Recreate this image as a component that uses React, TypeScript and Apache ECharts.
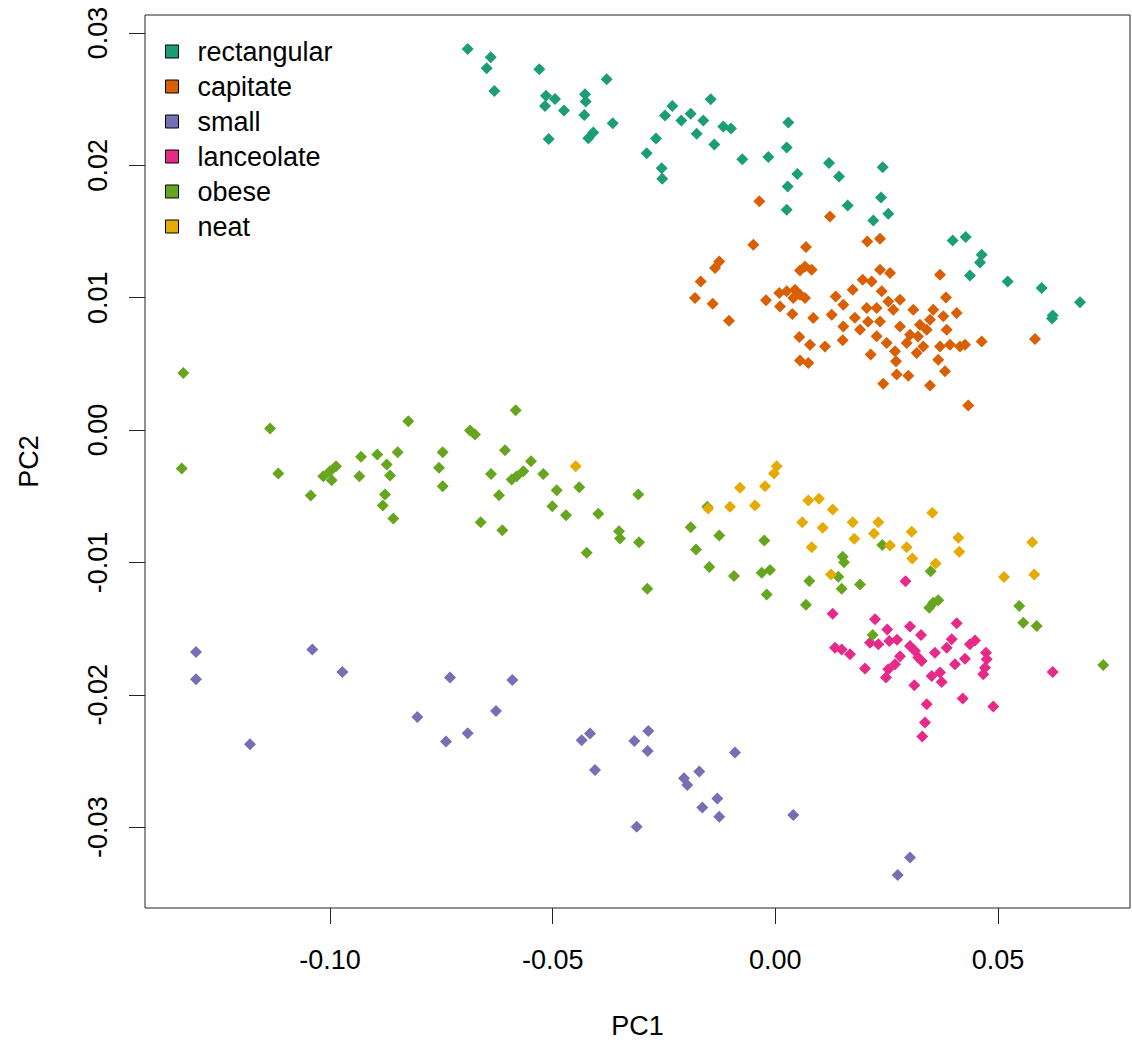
import React, { useEffect, useRef } from "react";
import * as echarts from "echarts";

const categories = ["rectangular", "capitate", "small", "lanceolate", "obese", "neat"];
const colors = ["#1B9E77", "#D95F02", "#7570B3", "#E7298A", "#66A61E", "#E6AB02"];
const xTicks = [-0.1, -0.05, 0, 0.05];
const yTicks = [-0.03, -0.02, -0.01, 0, 0.01, 0.02, 0.03];

const rectangular: [number, number][] = [
  [-0.06908, 0.02879], [-0.06391, 0.02817], [-0.06481, 0.02734], [-0.0631, 0.02562], [-0.053, 0.02726],
  [-0.05149, 0.02525], [-0.04947, 0.02502], [-0.05172, 0.02449], [-0.04745, 0.02414], [-0.04274, 0.02537],
  [-0.04258, 0.02482], [-0.04289, 0.02381], [-0.03786, 0.02651], [-0.03651, 0.02318], [-0.05089, 0.022],
  [-0.04199, 0.02205], [-0.04087, 0.02248], [-0.02679, 0.02202], [-0.02888, 0.02092], [-0.02551, 0.01979],
  [-0.02538, 0.01898], [-0.02477, 0.02376], [-0.02313, 0.02449], [-0.02111, 0.02338], [-0.019, 0.02389],
  [-0.01617, 0.02338], [-0.01765, 0.02238], [-0.01451, 0.025], [-0.0137, 0.02157], [-0.01168, 0.02293],
  [-0.00995, 0.02278], [-0.00741, 0.02047], [-0.00157, 0.02064], [0.00292, 0.02323], [0.00256, 0.02134],
  [0.00494, 0.01934], [0.00278, 0.0184], [0.00256, 0.01664], [0.01206, 0.02017], [0.01431, 0.01915],
  [0.02412, 0.01986], [0.01626, 0.01697], [0.02374, 0.01757], [0.02538, 0.01634], [0.02201, 0.01583],
  [0.03984, 0.01432], [0.04276, 0.01458], [0.04635, 0.01325], [0.04597, 0.01266], [0.04372, 0.01168],
  [0.05219, 0.01123], [0.05982, 0.01073], [0.06843, 0.00965], [0.0623, 0.00866], [0.06215, 0.00842],
];

const capitate: [number, number][] = [
  [-0.00359, 0.01728], [0.01228, 0.01614], [-0.00494, 0.014], [0.00689, 0.01383], [0.02066, 0.01425],
  [0.02351, 0.01445], [-0.01258, 0.01274], [-0.01354, 0.01224], [-0.01675, 0.01123], [-0.01803, 0.00998],
  [-0.01406, 0.00955], [-0.0104, 0.00826], [0.00667, 0.01236], [0.00555, 0.01206], [0.00817, 0.01211],
  [-0.00209, 0.0098], [0.0009, 0.01035], [0.00106, 0.00934], [0.00256, 0.01048], [0.00442, 0.0106],
  [0.00555, 0.01023], [0.00667, 0.00998], [0.00404, 0.00998], [0.00382, 0.00877], [0.00853, 0.00847],
  [0.00539, 0.00703], [0.00779, 0.00645], [0.01116, 0.00632], [0.00555, 0.00525], [0.00741, 0.00507],
  [0.01356, 0.0101], [0.01267, 0.00872], [0.01527, 0.00947], [0.01738, 0.0106], [0.01527, 0.00783],
  [0.01902, 0.00758], [0.02053, 0.00922], [0.02277, 0.00922], [0.01963, 0.01136], [0.02165, 0.01123],
  [0.02351, 0.01211], [0.02576, 0.01186], [0.02389, 0.01048], [0.02538, 0.00972], [0.0265, 0.00909],
  [0.02351, 0.00821], [0.02277, 0.00708], [0.02502, 0.00658], [0.01514, 0.00678], [0.02142, 0.0057],
  [0.02688, 0.00595], [0.02711, 0.00519], [0.02726, 0.00419], [0.02987, 0.00411], [0.02425, 0.00349],
  [0.03099, 0.00909], [0.028, 0.00783], [0.03025, 0.00721], [0.02951, 0.00658], [0.03249, 0.00796],
  [0.034, 0.00758], [0.03175, 0.00583], [0.03324, 0.00632], [0.03548, 0.00909], [0.03773, 0.00859],
  [0.03849, 0.00758], [0.03699, 0.00632], [0.03923, 0.00645], [0.0366, 0.00532], [0.03811, 0.00444],
  [0.04074, 0.00885], [0.04148, 0.00632], [0.0426, 0.00645], [0.03474, 0.00336], [0.04635, 0.0067],
  [0.03833, 0.01002], [0.03699, 0.01174], [0.04334, 0.00185], [0.05832, 0.00688], [0.01786, 0.00849],
  [0.02082, 0.00819], [0.028, 0.00985], [0.03205, 0.00706], [0.03474, 0.00834],
];

const small: [number, number][] = [
  [-0.13009, -0.01677], [-0.13009, -0.01883], [-0.10397, -0.01657], [-0.09724, -0.01828], [-0.11797, -0.02374],
  [-0.07305, -0.0187], [-0.05906, -0.01888], [-0.0804, -0.02168], [-0.06272, -0.02122], [-0.07395, -0.02353],
  [-0.06908, -0.02291], [-0.04161, -0.02293], [-0.04348, -0.02343], [-0.04049, -0.02568], [-0.02852, -0.02273],
  [-0.03166, -0.02349], [-0.02866, -0.02424], [-0.03113, -0.02998], [-0.00905, -0.02436], [-0.01707, -0.0258],
  [-0.0205, -0.0263], [-0.01976, -0.02681], [-0.01302, -0.02783], [-0.01639, -0.02851], [-0.01258, -0.02922],
  [0.00404, -0.02909], [0.03025, -0.03229], [0.02749, -0.03362],
];

const lanceolate: [number, number][] = [
  [0.02924, -0.01143], [0.01289, -0.01387], [0.02239, -0.0143], [0.02515, -0.01506], [0.0256, -0.01594],
  [0.03025, -0.01485], [0.03272, -0.01549], [0.04074, -0.0146], [0.01341, -0.01644], [0.01491, -0.01657],
  [0.01678, -0.01694], [0.02127, -0.01606], [0.02313, -0.01619], [0.03025, -0.01632], [0.03137, -0.01669],
  [0.03211, -0.01719], [0.03288, -0.01745], [0.03586, -0.01682], [0.03849, -0.01644], [0.03961, -0.01581],
  [0.04372, -0.01619], [0.04485, -0.01589], [0.0426, -0.01727], [0.04732, -0.01682], [0.04747, -0.01732],
  [0.04709, -0.01795], [0.04671, -0.01845], [0.02014, -0.01802], [0.02688, -0.0177], [0.02538, -0.01808],
  [0.02486, -0.0187], [0.03122, -0.01928], [0.03512, -0.01858], [0.03699, -0.01832], [0.03737, -0.01903],
  [0.0623, -0.01828], [0.034, -0.02072], [0.04208, -0.02029], [0.04896, -0.02089], [0.03362, -0.0221],
  [0.03301, -0.02315], [0.028, -0.01709], [0.04035, -0.0177], [0.02733, -0.01585],
];

const obese: [number, number][] = [
  [-0.13294, 0.00432], [-0.1333, -0.00291], [-0.11347, 0.00011], [-0.11161, -0.00328], [-0.10433, -0.00494],
  [-0.08242, 0.00066], [-0.10151, -0.00349], [-0.1, -0.00311], [-0.09865, -0.00273], [-0.09962, -0.00379],
  [-0.09304, -0.00202], [-0.09342, -0.00349], [-0.08938, -0.00185], [-0.08727, -0.0026], [-0.08653, -0.00343],
  [-0.0848, -0.00168], [-0.08765, -0.00487], [-0.08816, -0.0057], [-0.08578, -0.00668], [-0.07469, -0.00168],
  [-0.07552, -0.00285], [-0.07469, -0.00424], [-0.06856, -0.00004], [-0.06744, -0.00034], [-0.0583, 0.00149],
  [-0.0607, -0.00152], [-0.06384, -0.00331], [-0.06205, -0.00492], [-0.06616, -0.00696], [-0.06131, -0.00756],
  [-0.05486, -0.00235], [-0.05659, -0.00311], [-0.05807, -0.00349], [-0.0592, -0.00374], [-0.0521, -0.00331],
  [-0.04909, -0.00454], [-0.05008, -0.00575], [-0.047, -0.00643], [-0.04402, -0.00432], [-0.03975, -0.00632],
  [-0.0351, -0.00764], [-0.03487, -0.00819], [-0.03077, -0.00487], [-0.03061, -0.00847], [-0.04235, -0.00927],
  [-0.02874, -0.01198], [-0.01527, -0.0058], [-0.019, -0.00734], [-0.01258, -0.00796], [-0.01781, -0.00902],
  [-0.00247, -0.00834], [-0.01482, -0.01035], [-0.00927, -0.01103], [-0.00305, -0.01078], [-0.00119, -0.01058],
  [-0.00193, -0.01242], [0.00764, -0.01141], [0.00689, -0.01319], [0.01514, -0.00957], [0.01543, -0.00998],
  [0.01415, -0.01108], [0.01491, -0.01198], [0.01902, -0.01166], [0.02403, -0.00869], [0.0349, -0.01066],
  [0.03548, -0.01304], [0.0366, -0.01285], [0.03458, -0.01342], [0.05479, -0.0133], [0.05569, -0.01455],
  [0.0587, -0.01481], [0.02187, -0.01549], [0.07366, -0.01775],
];

const neat: [number, number][] = [
  [-0.04482, -0.00273], [0.00031, -0.00273], [-0.00029, -0.00328], [-0.00793, -0.00436], [-0.00231, -0.00424],
  [-0.01505, -0.00592], [-0.01017, -0.0058], [-0.00456, -0.0057], [0.00741, -0.00532], [0.00981, -0.00519],
  [0.01289, -0.006], [0.00606, -0.00696], [0.01064, -0.00738], [0.01738, -0.00696], [0.02313, -0.00696],
  [0.02216, -0.00781], [0.01774, -0.00821], [0.00817, -0.00885], [0.02576, -0.00872], [0.02951, -0.00885],
  [0.03063, -0.00768], [0.03526, -0.00625], [0.03077, -0.0097], [0.03602, -0.01008], [0.0411, -0.00814],
  [0.04132, -0.00919], [0.01251, -0.01091], [0.05136, -0.01111], [0.05771, -0.00847], [0.05816, -0.01091],
];

const seriesData = [rectangular, capitate, small, lanceolate, obese, neat];

const FONT = "'Liberation Sans', Arial, Helvetica, sans-serif";
const fmt = (v: number) => v.toFixed(2);

export default function App() {
  const ref = useRef<HTMLDivElement>(null);
  useEffect(() => {
    if (!ref.current) return;
    const chart = echarts.init(ref.current, null, { renderer: "svg" });
    chart.setOption({
      animation: false,
      backgroundColor: "#ffffff",
      textStyle: { fontFamily: FONT },
      grid: {
        left: 145,
        top: 15,
        width: 985,
        height: 894,
        show: true,
        borderColor: "#222",
        borderWidth: 1,
        backgroundColor: "transparent",
      },
      xAxis: {
        type: "value",
        min: -0.14155,
        max: 0.07966,
        position: "bottom",
        name: "PC1",
        nameLocation: "middle",
        nameGap: 104,
        nameTextStyle: { fontFamily: FONT, fontSize: 27, color: "#000" },
        axisLine: { show: false, onZero: false },
        splitLine: { show: false },
        axisTick: { show: true, length: 16, customValues: xTicks, lineStyle: { color: "#222", width: 1 } },
        axisLabel: { customValues: xTicks, formatter: fmt, margin: 38, fontSize: 27, fontFamily: FONT, color: "#000" },
      },
      yAxis: {
        type: "value",
        min: -0.03611,
        max: 0.03136,
        position: "left",
        name: "PC2",
        nameLocation: "middle",
        nameRotate: 90,
        nameGap: 103,
        nameTextStyle: { fontFamily: FONT, fontSize: 27, color: "#000" },
        axisLine: { show: false, onZero: false },
        splitLine: { show: false },
        axisTick: { show: true, length: 16, customValues: yTicks, lineStyle: { color: "#222", width: 1 } },
        axisLabel: {
          customValues: yTicks,
          formatter: fmt,
          rotate: 90,
          margin: 34,
          fontSize: 27,
          fontFamily: FONT,
          color: "#000",
        },
      },
      legend: {
        data: categories,
        orient: "vertical",
        left: 165,
        top: 38,
        padding: 0,
        itemGap: 8,
        itemWidth: 13,
        itemHeight: 13,
        icon: "rect",
        itemStyle: { borderColor: "#000", borderWidth: 1 },
        textStyle: { fontFamily: FONT, fontSize: 27, color: "#000", lineHeight: 27, padding: [0, 0, 0, 14] },
      },
      series: categories.map((name, i) => ({
        name,
        type: "scatter",
        data: seriesData[i],
        symbol: "diamond",
        symbolSize: [12, 12],
        itemStyle: { color: colors[i], opacity: 1 },
        emphasis: { disabled: true },
      })),
    });
    return () => chart.dispose();
  }, []);
  return (
    <div
      ref={ref}
      style={{ position: "absolute", left: 0, top: 0, width: 1132, height: 1044, background: "#fff" }}
    />
  );
}
